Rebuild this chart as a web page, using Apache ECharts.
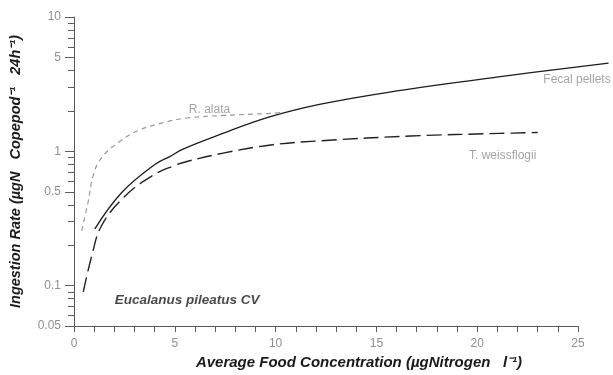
<!DOCTYPE html>
<html>
<head>
<meta charset="utf-8">
<style>
  html, body { margin: 0; padding: 0; background: #fff; }
  #chart { width: 613px; height: 375px; }
</style>
<script src="https://cdn.jsdelivr.net/npm/echarts@6/dist/echarts.min.js"></script>
</head>
<body>
<div id="chart"></div>
<script>
// Ingestion rate vs. average food concentration, Eucalanus pileatus CV
const fecalPellets = [
  [1.27, 0.29], [2.58, 0.53], [4.22, 0.85], [4.95, 0.97], [5.6, 1.1],
  [7.4, 1.4], [9.85, 1.88], [12.3, 2.32], [15.6, 2.83], [21.0, 3.66], [26.5, 4.62]
];
const weissflogii = [
  [0.46, 0.09], [0.87, 0.164], [1.36, 0.278], [2.5, 0.46], [3.9, 0.66],
  [4.95, 0.78], [5.6, 0.84], [7.4, 0.97], [9.85, 1.12], [12.3, 1.2],
  [16.7, 1.3], [21.1, 1.36], [23.0, 1.38]
];
const alata = [
  [0.38, 0.256], [0.7, 0.42], [0.95, 0.66], [1.36, 0.895], [2.25, 1.18],
  [3.24, 1.44], [4.54, 1.65], [5.6, 1.77], [7.4, 1.85], [9.85, 1.92], [10.3, 1.95]
];
const yMajorTicks = [0.05, 0.1, 0.5, 1, 5, 10];
const yMinorTicks = [0.06, 0.07, 0.08, 0.09, 0.2, 0.3, 0.4, 0.6, 0.7, 0.8, 0.9,
                     2, 3, 4, 6, 7, 8, 9];
const notes = [
  { text: 'R. alata', at: [6.9, 2.12], style: 'curve' },
  { text: 'Fecal pellets', at: [24.95, 3.5], style: 'curve' },
  { text: 'T. weissflogii', at: [21.3, 0.99], style: 'curve' },
  { text: 'Eucalanus pileatus CV', at: [5.8, 0.0875], style: 'title' }
];

const W = 613, LEFT = 69, RIGHT = 35, TOP = 17, BOTTOM = 41;
// The fecal-pellet curve runs past the last labelled tick, so it gets a
// wider, hidden companion grid sharing the same x scale.
const RIGHT_WIDE = 4;
const X_MAX = 25;
const X_MAX_WIDE = X_MAX * (W - RIGHT_WIDE - LEFT) / (W - RIGHT - LEFT);

const chart = echarts.init(document.getElementById('chart'), null, { renderer: 'canvas' });
const tickGray = '#8f8f8f';
const axisColor = '#5a5a5a';
const labelFont = 'Liberation Sans, Arial, sans-serif';

const logAxisBase = {
  type: 'log', logBase: 10, min: 0.05, max: 10, position: 'left',
  splitLine: { show: false }
};

chart.setOption({
  animation: false,
  backgroundColor: '#ffffff',
  grid: [
    { left: LEFT, right: RIGHT, top: TOP, bottom: BOTTOM },
    { left: LEFT, right: RIGHT_WIDE, top: TOP, bottom: BOTTOM }
  ],
  xAxis: [
    {
      gridIndex: 0, type: 'value', min: 0, max: X_MAX, interval: 5,
      name: 'Average Food Concentration (µgNitrogen   l⁻¹)',
      nameLocation: 'middle', nameGap: 27,
      nameTextStyle: {
        fontFamily: labelFont, fontStyle: 'italic', fontWeight: 'bold',
        fontSize: 15, color: '#1a1a1a', padding: [0, 0, 0, 66]
      },
      axisLine: { onZero: false, lineStyle: { color: axisColor, width: 1 } },
      axisTick: { length: 6, lineStyle: { color: axisColor } },
      minorTick: { show: true, splitNumber: 5, length: 6, lineStyle: { color: axisColor } },
      axisLabel: { color: tickGray, fontFamily: labelFont, fontSize: 12, margin: 12 },
      splitLine: { show: false }
    },
    {
      gridIndex: 1, type: 'value', min: 0, max: X_MAX_WIDE, show: false,
      splitLine: { show: false }
    }
  ],
  yAxis: [
    Object.assign({}, logAxisBase, {
      gridIndex: 0,
      name: 'Ingestion Rate (µgN   Copepod⁻¹   24h⁻¹)',
      nameLocation: 'middle', nameGap: 51, nameRotate: 90,
      nameTextStyle: {
        fontFamily: labelFont, fontStyle: 'italic', fontWeight: 'bold',
        fontSize: 14.5, color: '#1a1a1a'
      },
      axisLine: { show: true, lineStyle: { color: axisColor, width: 1 } },
      axisTick: { show: true, length: 9, customValues: yMajorTicks, lineStyle: { color: axisColor } },
      axisLabel: {
        show: true, customValues: yMajorTicks, color: tickGray,
        fontFamily: labelFont, fontSize: 12, margin: 13,
        formatter: v => String(+(+v).toPrecision(3))
      }
    }),
    Object.assign({}, logAxisBase, {
      gridIndex: 0,
      axisLine: { show: false },
      axisTick: { show: true, length: 6, customValues: yMinorTicks, lineStyle: { color: axisColor } },
      axisLabel: { show: false }
    }),
    Object.assign({}, logAxisBase, { gridIndex: 1, show: false })
  ],
  series: [
    {
      name: 'Fecal pellets', type: 'line', data: fecalPellets, smooth: 0.4,
      xAxisIndex: 1, yAxisIndex: 2,
      showSymbol: false,
      lineStyle: { color: '#1c1c1c', width: 1.3, type: 'solid' }
    },
    {
      name: 'T. weissflogii', type: 'line', data: weissflogii, smooth: 0.4,
      xAxisIndex: 0, yAxisIndex: 0,
      showSymbol: false,
      lineStyle: { color: '#222', width: 1.4, type: [15, 6] }
    },
    {
      name: 'R. alata', type: 'line', data: alata, smooth: 0.4,
      xAxisIndex: 0, yAxisIndex: 0,
      showSymbol: false,
      lineStyle: { color: '#9a9a9a', width: 1.2, type: [5, 4] }
    },
    {
      name: 'notes', type: 'scatter', symbolSize: 0, silent: true, clip: false,
      xAxisIndex: 1, yAxisIndex: 2,
      data: notes.map(n => ({
        value: n.at, name: n.text,
        label: n.style === 'title'
          ? { fontFamily: labelFont, fontStyle: 'italic', fontWeight: 'bold', fontSize: 13.5, color: '#1a1a1a' }
          : { fontFamily: labelFont, fontSize: 12, color: '#8c8c8c' }
      })),
      label: { show: true, position: 'inside', formatter: p => p.name }
    }
  ]
});
</script>
</body>
</html>
